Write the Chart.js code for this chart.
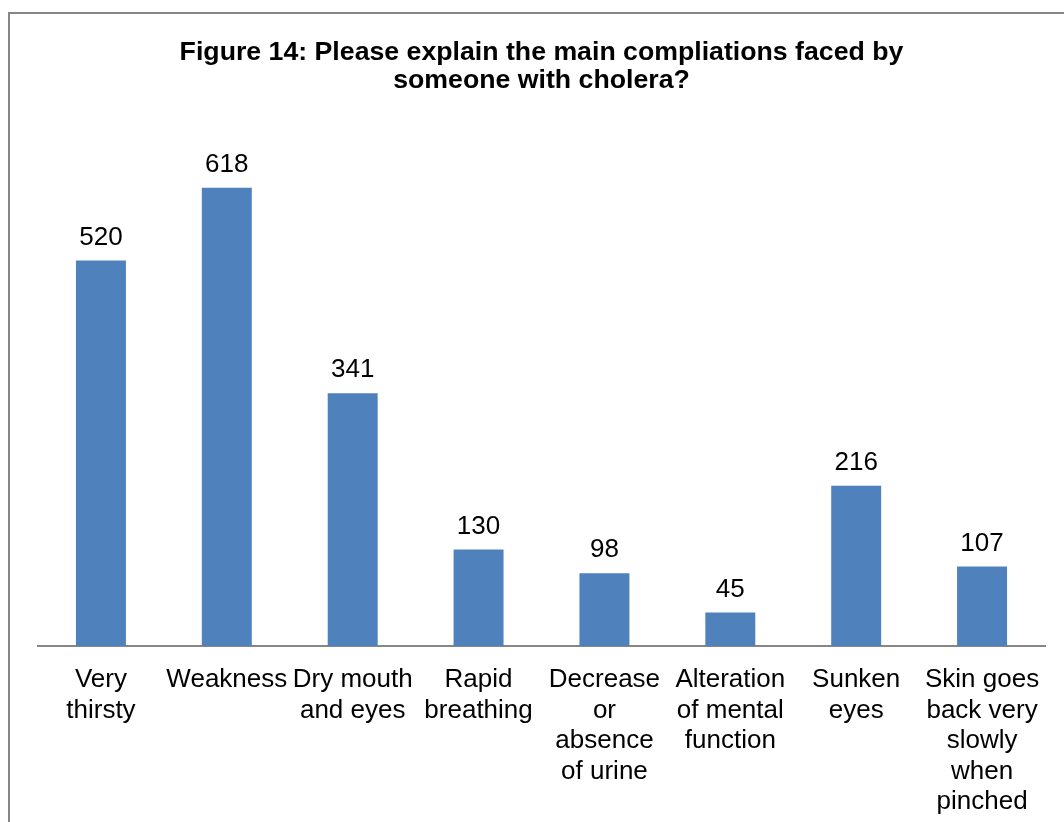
<!DOCTYPE html>
<html>
<head>
<meta charset="utf-8">
<script src="https://cdn.jsdelivr.net/npm/chart.js@4/dist/chart.umd.min.js"></script>
<style>
  html, body { margin: 0; padding: 0; background: #fff; }
  #wrap { width: 1064px; height: 822px; position: relative; }
</style>
</head>
<body>
<div id="wrap"><canvas id="grafica" width="1064" height="822"></canvas></div>
<script>
const categorias = [
  ["Very", "thirsty"],
  ["Weakness"],
  ["Dry mouth", "and eyes"],
  ["Rapid", "breathing"],
  ["Decrease", "or", "absence", "of urine"],
  ["Alteration", "of mental", "function"],
  ["Sunken", "eyes"],
  ["Skin goes", "back very", "slowly", "when", "pinched"]
];
const valores = [520, 618, 341, 130, 98, 45, 216, 107];
const titulo = ["Figure 14: Please explain the main compliations faced by", "someone with cholera?"];

// Valores encima de cada barra
const etiquetas = {
  id: "etiquetas",
  afterDatasetsDraw(chart) {
    const ctx = chart.ctx;
    ctx.save();
    ctx.font = "26px 'Liberation Sans', Arial, sans-serif";
    ctx.fillStyle = "#000";
    ctx.textAlign = "center";
    ctx.textBaseline = "middle";
    chart.getDatasetMeta(0).data.forEach((bar, i) => {
      ctx.fillText(valores[i], bar.x, bar.y - 23);
    });
    ctx.restore();
  }
};

// Marco gris del gráfico
const marco = {
  id: "marco",
  beforeDraw(chart) {
    const ctx = chart.ctx;
    ctx.save();
    ctx.fillStyle = "#fff";
    ctx.fillRect(0, 0, chart.width, chart.height);
    ctx.strokeStyle = "#868686";
    ctx.lineWidth = 2;
    ctx.strokeRect(9, 13, chart.width + 20, chart.height + 20);
    ctx.restore();
  }
};

new Chart(document.getElementById("grafica"), {
  type: "bar",
  data: {
    labels: categorias,
    datasets: [{
      data: valores,
      backgroundColor: "#4F81BD",
      barPercentage: 0.397,
      categoryPercentage: 1.0
    }]
  },
  options: {
    responsive: false,
    animation: false,
    events: [],
    layout: { padding: { left: 38, right: 19, top: 0, bottom: -14 } },
    plugins: {
      legend: { display: false },
      tooltip: { enabled: false },
      title: {
        display: true,
        text: titulo,
        color: "#000",
        font: { family: "'Liberation Sans', Arial, sans-serif", size: 26.7, weight: "bold", lineHeight: 1.05 },
        padding: { top: 39, bottom: 32 }
      }
    },
    scales: {
      y: { display: false, min: 0, max: 700 },
      x: {
        grid: { display: false, drawTicks: false },
        border: { display: true, color: "#868686", width: 2 },
        ticks: {
          color: "#000",
          font: { family: "'Liberation Sans', Arial, sans-serif", size: 26, lineHeight: 1.17 },
          padding: 19,
          maxRotation: 0,
          minRotation: 0,
          autoSkip: false
        }
      }
    }
  },
  plugins: [marco, etiquetas]
});
</script>
</body>
</html>
